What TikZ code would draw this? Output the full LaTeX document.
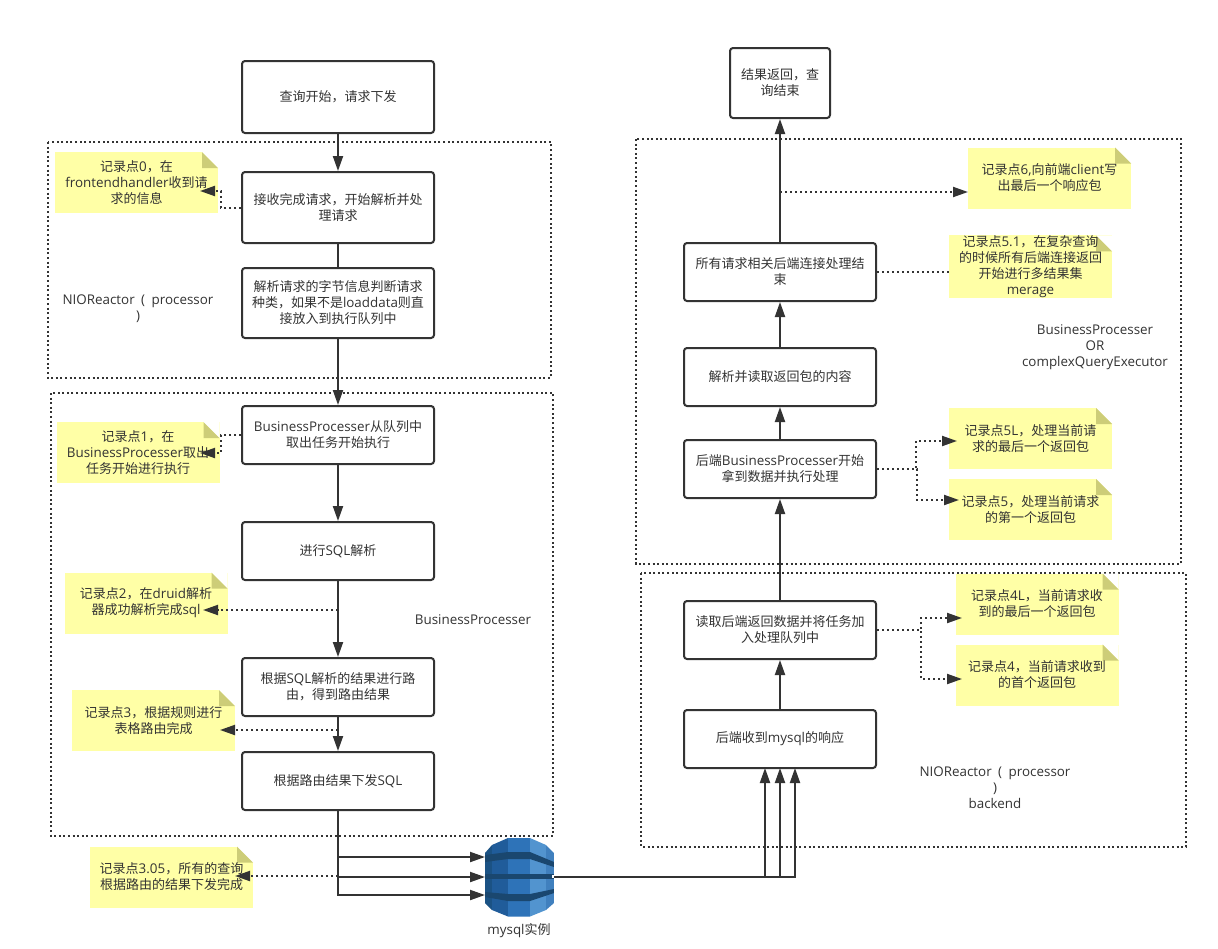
\documentclass[tikz,border=0pt]{standalone}
\usepackage{fontspec}
\setmainfont{Open Sans}
\usetikzlibrary{arrows.meta}
\font\cjkraw="Noto Sans CJK SC" at 13pt
\font\latraw="Open Sans" at 13.4pt
\newXeTeXintercharclass\cjkclass
\newcount\cjkcode
\cjkcode="4E00
\loop
  \XeTeXcharclass\cjkcode=\cjkclass
  \ifnum\cjkcode<"9FFF \advance\cjkcode 1 \repeat
\XeTeXcharclass"FF0C=\cjkclass
\XeTeXinterchartokenstate=1
\XeTeXinterchartoks 0 \cjkclass={\cjkraw}
\XeTeXinterchartoks 4095 \cjkclass={\cjkraw}
\XeTeXinterchartoks \cjkclass 0 ={\latraw}
\XeTeXinterchartoks \cjkclass 4095 ={\latraw}
\definecolor{ink}{HTML}{333333}
\definecolor{notefill}{HTML}{FFFFA6}
\definecolor{notefold}{HTML}{CDCD78}
\tikzset{
  txt/.style={text=ink,align=center,inner sep=0pt,font=\fontsize{13}{16}\selectfont\latraw},
  flowbox/.style={txt,draw=ink,line width=2,rounded corners=3,fill=white,minimum width=192,minimum height=58},
  region/.style={draw=ink,line width=2,dash pattern=on 2 off 2.6},
  note/.style={txt,fill=notefill,minimum width=163,minimum height=61,
    path picture={
      \fill[white] ([xshift=-16]path picture bounding box.north east) -- (path picture bounding box.north east) -- ([yshift=-16]path picture bounding box.north east) -- cycle;
      \fill[notefold] ([xshift=-16]path picture bounding box.north east) -- ([yshift=-16]path picture bounding box.north east) -- ([xshift=-16,yshift=-16]path picture bounding box.north east) -- cycle;
    }},
  flow/.style={draw=ink,line width=2,-{Triangle[length=15pt,width=10pt]}},
  dots/.style={draw=ink,line width=2,dash pattern=on 2 off 3,-{Triangle[length=15pt,width=10pt,sep=0pt]}},
  dotsplain/.style={draw=ink,line width=2,dash pattern=on 2 off 3}
}
\begin{document}
\begin{tikzpicture}[x=1pt,y=-1pt]
\useasboundingbox[fill=white] (0,0) rectangle (1218,948);
% dotted regions
\draw[region] (48,142) rectangle (551,378);
\draw[region] (51,393) rectangle (553,836);
\draw[region] (636,139) rectangle (1181,564);
\draw[region] (641,573) rectangle (1186,847);
\node[txt] (lblnio) at (138,309) {NIOReactor\hspace{3pt} (\hspace{3pt} processor\\)};
\node[txt] (lblbp) at (473,620) {BusinessProcesser};
\node[txt] (lblor) at (1095,347) {BusinessProcesser\\OR\\complexQueryExecutor};
\node[txt] (lblback) at (995,788) {NIOReactor\hspace{3pt} (\hspace{3pt} processor\\)\\backend};
% left column
\node[flowbox,minimum height=72] (start) at (338,97) {查询开始，请求下发};
\node[flowbox,minimum height=71] (recv) at (338,207.5) {接收完成请求，开始解析并处\\理请求};
\node[flowbox,minimum height=70] (parse) at (338,303) {解析请求的字节信息判断请求\\种类，如果不是loaddata则直\\接放入到执行队列中};
\node[flowbox] (bptake) at (338,435) {BusinessProcesser从队列中\\取出任务开始执行};
\node[flowbox] (sqlparse) at (338,551) {进行SQL解析};
\node[flowbox] (route) at (338,687) {根据SQL解析的结果进行路\\由，得到路由结果};
\node[flowbox] (send) at (338,781) {根据路由结果下发SQL};
% right column
\node[flowbox,minimum width=100,minimum height=70] (result) at (780,83) {结果返回，查\\询结束};
\node[flowbox] (alldone) at (780,272) {所有请求相关后端连接处理结\\束};
\node[flowbox] (readpkg) at (780,377) {解析并读取返回包的内容};
\node[flowbox] (backbp) at (780,469) {后端BusinessProcesser开始\\拿到数据并执行处理};
\node[flowbox] (readback) at (780,630) {读取后端返回数据并将任务加\\入处理队列中};
\node[flowbox] (recvsql) at (780,739) {后端收到mysql的响应};
% notes
\node[note] (n0) at (136.5,182.5) {记录点0，在\\frontendhandler收到请\\求的信息};
\node[note] (n1) at (138,452.5) {记录点1，在\\BusinessProcesser取出\\任务开始进行执行};
\node[note] (n2) at (146,603) {记录点2，在druid解析\\器成功解析完成sql};
\node[note] (n3) at (153.5,720.5) {记录点3，根据规则进行\\表格路由完成};
\node[note] (n305) at (171.5,877) {记录点3.05，所有的查询\\根据路由的结果下发完成};
\node[note] (n6) at (1049.5,178) {记录点6,向前端client写\\出最后一个响应包};
\node[note] (n51) at (1030.5,266.5) {记录点5.1，在复杂查询\\的时候所有后端连接返回\\开始进行多结果集\\merage};
\node[note] (n5l) at (1030.5,438.5) {记录点5L，处理当前请\\求的最后一个返回包};
\node[note] (n5) at (1030.5,509.5) {记录点5，处理当前请求\\的第一个返回包};
\node[note] (n4l) at (1037,604) {记录点4L，当前请求收\\到的最后一个返回包};
\node[note] (n4) at (1037,675) {记录点4，当前请求收到\\的首个返回包};
% database
\node[minimum width=69,minimum height=79,inner sep=0pt] (db) at (519.5,877) {};
\begin{scope}
\clip (508,838) -- (530,838) -- (546,845) -- (554,853) -- (554,903) -- (546,910) -- (530,916.5) -- (508,916.5) -- (492,910) -- (485,903) -- (485,853) -- (492,845) -- cycle;
\fill[color={rgb,255:red,27;green,82;blue,132}] (485,838) rectangle (492,917);
\fill[color={rgb,255:red,32;green,92;blue,154}] (492,838) rectangle (508,917);
\fill[color={rgb,255:red,46;green,115;blue,184}] (508,838) rectangle (530,917);
\fill[color={rgb,255:red,82;green,148;blue,207}] (530,838) rectangle (546,917);
\fill[color={rgb,255:red,64;green,128;blue,190}] (546,838) rectangle (554,917);
\fill[color={rgb,255:red,26;green,71;blue,111}] (485,855) -- (508,852) -- (530,852) -- (554,862) -- (554,867) -- (530,859) -- (508,859) -- (485,862) -- cycle;
\fill[color={rgb,255:red,26;green,71;blue,111}] (485,874) rectangle (554,879);
\fill[color={rgb,255:red,26;green,71;blue,111}] (485,892) -- (508,894) -- (530,894) -- (554,889) -- (554,893) -- (530,901) -- (508,901) -- (485,897) -- cycle;
\fill[white] (552,875) rectangle (554,878);
\end{scope}
\node[txt] (dblabel) at (519,931) {mysql实例};
% free ends
\coordinate (dbin1) at (485,857);
\coordinate (dbin2) at (485,877);
\coordinate (dbin3) at (485,895);
\coordinate (dbout) at (554,877);
\coordinate (rin1) at (765,768);
\coordinate (rin2) at (780,768);
\coordinate (rin3) at (795,768);
% flow
\draw[flow] (start) -- (recv);
\draw[flow,-] (recv) -- (parse);
\draw[flow] (parse) -- (bptake);
\draw[flow] (bptake) -- (sqlparse);
\draw[flow] (sqlparse) -- (route);
\draw[flow] (route) -- (send);
\draw[flow] (send.south) |- (dbin1);
\draw[flow] (send.south) |- (dbin2);
\draw[flow] (send.south) |- (dbin3);
\draw[flow] (dbout) -| (rin1);
\draw[flow] (dbout) -| (rin2);
\draw[flow] (dbout) -| (rin3);
\draw[flow] (recvsql) -- (readback);
\draw[flow] (readback) -- (backbp);
\draw[flow] (backbp) -- (readpkg);
\draw[flow] (readpkg) -- (alldone);
\draw[flow] (alldone) -- (result);
% dotted connectors
\coordinate (t0) at (200,191);
\coordinate (t1) at (200,453);
\coordinate (t2) at (203,610);
\coordinate (t3) at (220,730);
\coordinate (t305) at (235,876);
\coordinate (f2) at (338,610);
\coordinate (f3) at (338,730);
\coordinate (f305) at (338,876);
\coordinate (f6) at (780,192);
\coordinate (t6) at (968,192);
\coordinate (t5l) at (957,441);
\coordinate (t5) at (959,500);
\coordinate (t4l) at (962,618);
\coordinate (t4) at (962,679);
\draw[dots] (recv.west) -- +(-20,0) |- (t0);
\draw[dots] (bptake.west) -- +(-20,0) |- (t1);
\draw[dots] (f2) -- (t2);
\draw[dots] (f3) -- (t3);
\draw[dots] (f305) -- (t305);
\draw[dots] (f6) -- (t6);
\draw[dotsplain] (alldone.east) -- (alldone.east -| n51.west);
\draw[dots] (backbp.east) -- +(39,0) |- (t5l);
\draw[dots] (backbp.east) -- +(40,0) |- (t5);
\draw[dots] (readback.east) -- +(44,0) |- (t4l);
\draw[dots] (readback.east) -- +(44,0) |- (t4);
\end{tikzpicture}
\end{document}
